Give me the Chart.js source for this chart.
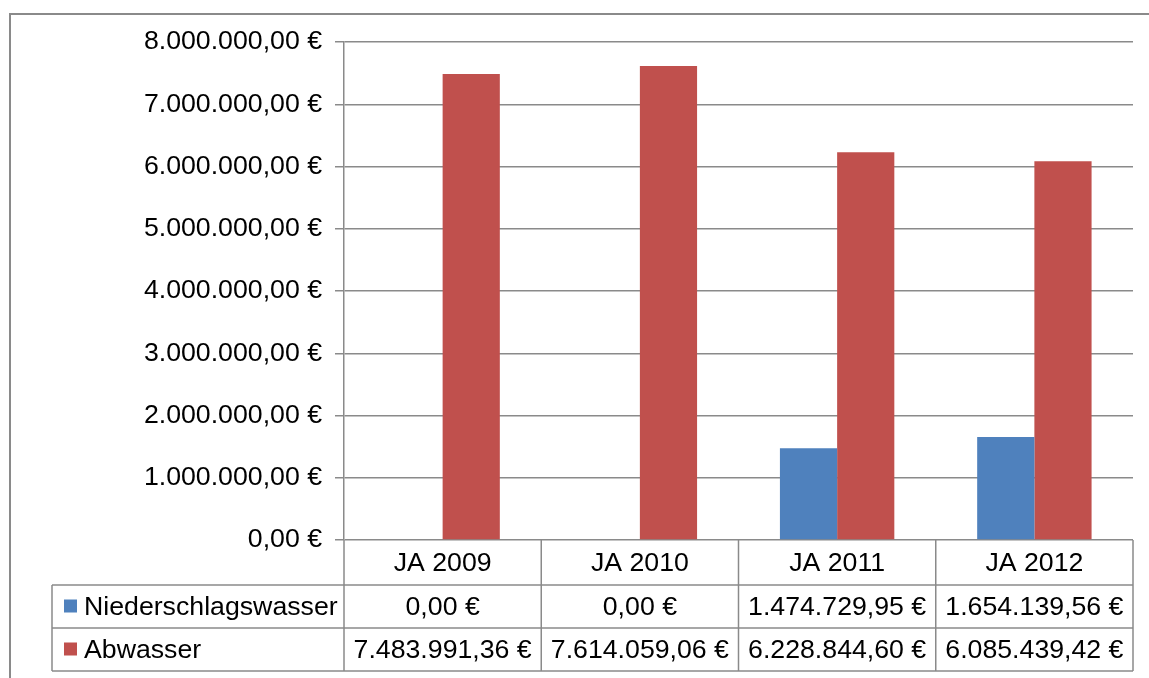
<!DOCTYPE html>
<html>
<head>
<meta charset="utf-8">
<script src="https://cdn.jsdelivr.net/npm/chart.js@4.4.0/dist/chart.umd.min.js"></script>
<style>
  html, body { margin: 0; padding: 0; background: #fff; }
  #wrap { position: relative; width: 1149px; height: 678px; }
</style>
</head>
<body>
<div id="wrap"><canvas id="chart" width="1149" height="678"></canvas></div>
<script>
const categories = ['JA 2009', 'JA 2010', 'JA 2011', 'JA 2012'];
const niederschlag = [0, 0, 1474729.95, 1654139.56];
const abwasser = [7483991.36, 7614059.06, 6228844.60, 6085439.42];
const seriesNames = ['Niederschlagswasser', 'Abwasser'];
const seriesColors = ['#4F81BD', '#C0504D'];
const yMax = 8000000;
const yStep = 1000000;

const FONT = '"Liberation Sans", Arial, sans-serif';
const FONT_SIZE = 26.7;
const LINE = '#8a8a8a';

// 1234567.8 -> "1.234.567,80 €"
function euro(v) {
  const parts = Number(v).toFixed(2).split('.');
  const int = parts[0].replace(/\B(?=(\d{3})+(?!\d))/g, '.');
  return int + ',' + parts[1] + ' €';
}

const frame = {
  id: 'frame',
  beforeDraw(chart) {
    const ctx = chart.ctx;
    ctx.save();
    ctx.fillStyle = '#fff';
    ctx.fillRect(0, 0, chart.width, chart.height);
    ctx.strokeStyle = LINE;
    ctx.lineWidth = 2;
    ctx.beginPath();
    ctx.moveTo(10, chart.height + 2);
    ctx.lineTo(10, 14);
    ctx.lineTo(chart.width + 2, 14);
    ctx.stroke();
    ctx.restore();
  }
};

// Excel-style data table under the plot
const dataTable = {
  id: 'dataTable',
  afterDraw(chart) {
    const ctx = chart.ctx;
    const area = chart.chartArea;
    const x = chart.scales.x;
    const top = area.bottom;
    const rowH = [45, 43, 43];
    const y1 = top + rowH[0], y2 = y1 + rowH[1], y3 = y2 + rowH[2];
    const tableLeft = 52;
    const edges = categories.map((c, i) => x.getPixelForValue(i - 0.5));
    edges.push(x.getPixelForValue(categories.length - 0.5));

    ctx.save();
    ctx.strokeStyle = LINE;
    ctx.lineWidth = 1.5;
    ctx.beginPath();
    edges.forEach((ex) => { ctx.moveTo(ex, top); ctx.lineTo(ex, y3); });
    ctx.moveTo(tableLeft, y1); ctx.lineTo(tableLeft, y3);
    [y1, y2, y3].forEach((yy) => { ctx.moveTo(tableLeft, yy); ctx.lineTo(area.right, yy); });
    ctx.stroke();

    ctx.fillStyle = '#000';
    ctx.font = FONT_SIZE + 'px ' + FONT;
    ctx.textAlign = 'center';
    ctx.textBaseline = 'middle';
    const rows = [niederschlag, abwasser];
    categories.forEach((c, i) => {
      const cx = (edges[i] + edges[i + 1]) / 2;
      ctx.fillText(c, cx, top + rowH[0] / 2 + 1);
      ctx.fillText(euro(rows[0][i]), cx, y1 + rowH[1] / 2 + 1);
      ctx.fillText(euro(rows[1][i]), cx, y2 + rowH[2] / 2 + 1);
    });

    ctx.textAlign = 'left';
    [y1, y2].forEach((yy, r) => {
      const mid = yy + rowH[r + 1] / 2;
      ctx.fillStyle = seriesColors[r];
      ctx.fillRect(64, mid - 7, 13, 13);
      ctx.fillStyle = '#000';
      ctx.fillText(seriesNames[r], 84, mid + 1);
    });
    ctx.restore();
  }
};

new Chart(document.getElementById('chart'), {
  type: 'bar',
  data: {
    labels: categories,
    datasets: [
      { label: seriesNames[0], data: niederschlag, backgroundColor: seriesColors[0] },
      { label: seriesNames[1], data: abwasser, backgroundColor: seriesColors[1] },
    ],
  },
  options: {
    responsive: false,
    animation: false,
    devicePixelRatio: 1,
    categoryPercentage: 0.58,
    barPercentage: 1,
    layout: { padding: { top: 42, right: 16, left: 0, bottom: 0 } },
    plugins: { legend: { display: false }, tooltip: { enabled: false } },
    scales: {
      x: {
        ticks: { display: false },
        grid: { display: false },
        border: { display: false },
        afterFit: (s) => { s.height = 138; },
      },
      y: {
        min: 0,
        max: yMax,
        ticks: {
          stepSize: yStep,
          padding: 13,
          color: '#000',
          font: { family: FONT, size: FONT_SIZE },
          callback: (v) => euro(v),
        },
        grid: { color: LINE, lineWidth: 1.5, tickLength: 9 },
        border: { display: true, color: LINE, width: 1.5 },
        afterFit: (s) => { s.width = 344; },
      },
    },
  },
  plugins: [frame, dataTable],
});
</script>
</body>
</html>
